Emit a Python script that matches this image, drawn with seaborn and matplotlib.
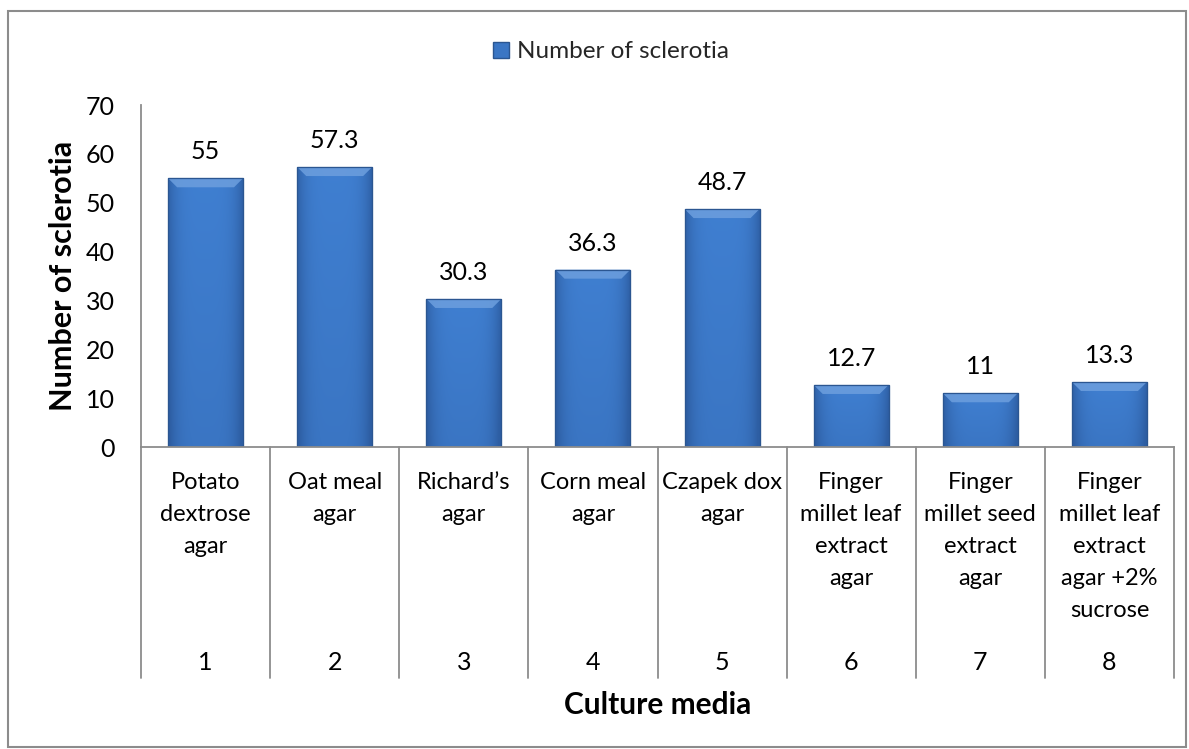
import numpy as np
import pandas as pd
import seaborn as sns
import matplotlib
matplotlib.use("Agg")
import matplotlib.pyplot as plt
from matplotlib.patches import Rectangle, Patch, Polygon
from matplotlib.transforms import blended_transform_factory

# ---- data -------------------------------------------------------------
media_names = [
    "Potato\ndextrose\nagar",
    "Oat meal\nagar",
    "Richard’s\nagar",
    "Corn meal\nagar",
    "Czapek dox\nagar",
    "Finger\nmillet leaf\nextract\nagar",
    "Finger\nmillet seed\nextract\nagar",
    "Finger\nmillet leaf\nextract\nagar +2%\nsucrose",
]
media_numbers = ["1", "2", "3", "4", "5", "6", "7", "8"]
sclerotia = [55, 57.3, 30.3, 36.3, 48.7, 12.7, 11, 13.3]
value_labels = ["55", "57.3", "30.3", "36.3", "48.7", "12.7", "11", "13.3"]
y_ticks = [0, 10, 20, 30, 40, 50, 60, 70]

# ---- style ------------------------------------------------------------
sns.set_theme(style="white")
plt.rcParams["font.family"] = ["Lato", "DejaVu Sans"]

W, H = 1189, 749
GRID = "#8c8c8c"
BAR = "#3b76c4"
BAR_EDGE = "#2b5691"

fig = plt.figure(figsize=(W / 100, H / 100), dpi=100)
ax_l, ax_r, ax_t, ax_b = 141, 1174, 105, 447
ax = fig.add_axes([ax_l / W, 1 - ax_b / H, (ax_r - ax_l) / W, (ax_b - ax_t) / H])

df = pd.DataFrame({"medium": media_numbers, "sclerotia": sclerotia})
sns.barplot(data=df, x="medium", y="sclerotia", color=BAR, width=0.58,
            edgecolor=BAR_EDGE, linewidth=0.8, saturation=1, ax=ax)

# shaded fill for each bar: darker toward the sides and the base
nx, ny = 80, 200
xs = np.linspace(0, 1, nx)
ys = np.linspace(1, 0, ny)[:, None]
side = np.abs(2 * xs - 1)[None, :] ** 4
light = np.array([0.26, 0.52, 0.85])
dark = np.array([0.18, 0.37, 0.64])
mix = np.clip(0.15 + 0.75 * side + 0.25 * (1 - ys), 0, 1)[..., None]
grad = light * (1 - mix) + dark * mix

px_per_x = (ax_r - ax_l) / 8.0
px_per_y = (ax_b - ax_t) / 70.0
for p in list(ax.patches):
    x0, w, h = p.get_x(), p.get_width(), p.get_height()
    im = ax.imshow(grad, extent=[x0, x0 + w, 0, h], aspect="auto",
                   zorder=p.get_zorder() + 0.1, interpolation="bilinear")
    im.set_clip_path(p)
    # bevel along the top edge
    dx, dy = 9 / px_per_x, 9 / px_per_y
    ax.add_patch(Polygon([[x0, h], [x0 + w, h], [x0 + w - dx, h - dy], [x0 + dx, h - dy]],
                         closed=True, facecolor="#6d9fde", edgecolor="none",
                         alpha=0.85, zorder=p.get_zorder() + 0.2))
    ax.add_patch(Rectangle((x0, 0), w, h, fill=False, edgecolor=BAR_EDGE,
                           linewidth=0.9, zorder=p.get_zorder() + 0.3))

ax.set_xlim(-0.5, 7.5)
ax.set_ylim(0, 70)

# value labels above bars
for i, (v, lab) in enumerate(zip(sclerotia, value_labels)):
    ax.annotate(lab, (i, v), xytext=(0, 19), textcoords="offset points",
                ha="center", va="center", fontsize=18, color="black")

# axes styling
for s in ["top", "right"]:
    ax.spines[s].set_visible(False)
for s in ["left", "bottom"]:
    ax.spines[s].set_color(GRID)
    ax.spines[s].set_linewidth(1.3)

ax.set_yticks(y_ticks)
ax.set_yticklabels([str(t) for t in y_ticks], fontsize=18, color="black")
ax.tick_params(axis="y", length=0, pad=19)

ax.set_xticks(range(len(media_names)))
ax.set_xticklabels(media_names, fontsize=17, color="black", linespacing=1.65)
ax.tick_params(axis="x", length=0, pad=18)

# category boxes below the axis
trans = blended_transform_factory(ax.transData, ax.transAxes)
box_bottom = -(678 - ax_b) / (ax_b - ax_t)
for b in np.arange(-0.5, 8.0, 1.0):
    ax.plot([b, b], [0, box_bottom], transform=trans, clip_on=False,
            color=GRID, linewidth=1.3, zorder=5)
num_y = -(663 - ax_b) / (ax_b - ax_t)
for i, n in enumerate(media_numbers):
    ax.text(i, num_y, n, transform=trans, ha="center", va="center",
            fontsize=18, color="black")

ax.set_xlabel("Culture media", fontsize=21.5, fontweight="bold", color="black")
ax.xaxis.set_label_coords(0.5, -(705 - ax_b) / (ax_b - ax_t))
ax.xaxis.label.set_va("center")
ax.set_ylabel("Number of sclerotia", fontsize=22, fontweight="bold", color="black")
ax.yaxis.set_label_coords(-(ax_l - 63) / (ax_r - ax_l), 0.5)
ax.yaxis.label.set_va("center")

# legend
handle = Patch(facecolor=BAR, edgecolor=BAR_EDGE)
fig.legend(handles=[handle], labels=["Number of sclerotia"], loc="center",
           bbox_to_anchor=(611 / W, 1 - 52 / H), frameon=False, fontsize=17.5,
           handlelength=0.65, handleheight=0.65, handletextpad=0.3)

# outer chart border
fig.add_artist(Rectangle((8 / W, 2 / H), (1186 - 8) / W, (738 - 2) / H,
                         transform=fig.transFigure, fill=False,
                         edgecolor=GRID, linewidth=1.5))

fig.savefig("out.png", dpi=100, facecolor="white")
